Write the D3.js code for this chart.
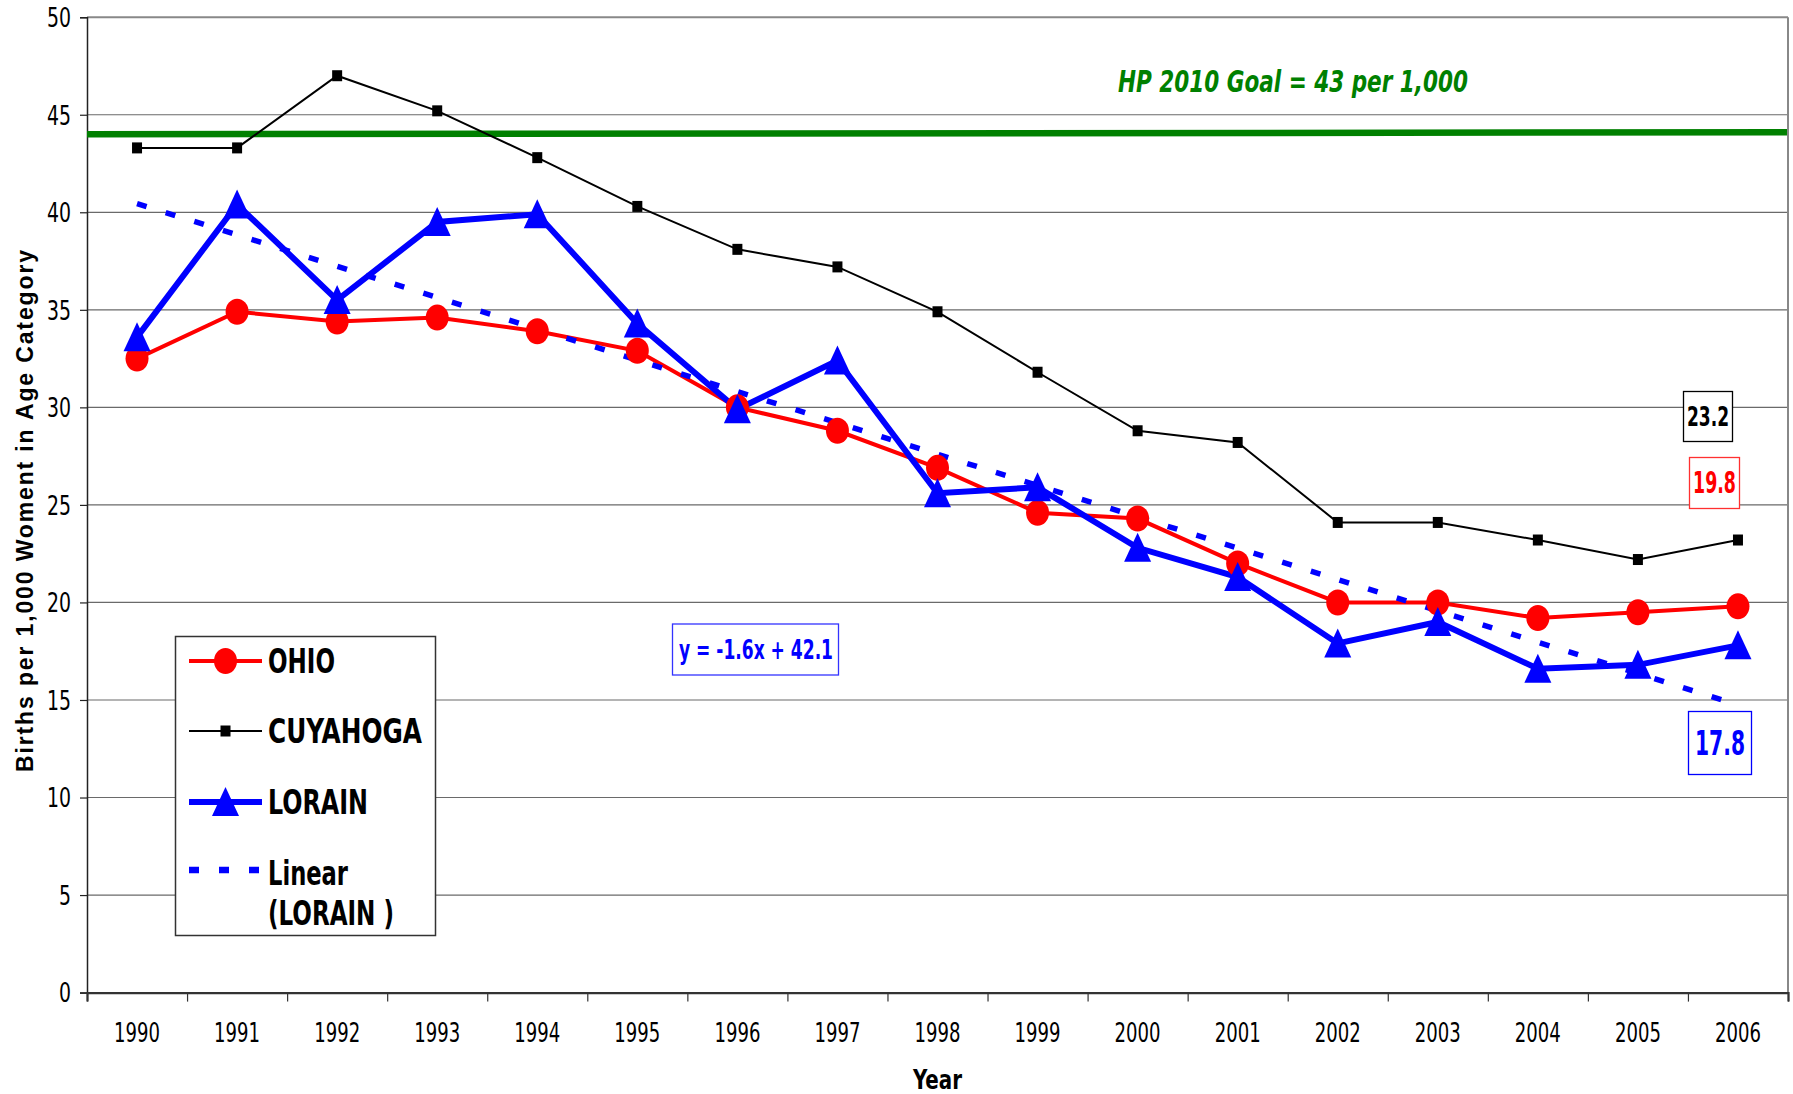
<!DOCTYPE html>
<html><head><meta charset="utf-8">
<script src="https://cdn.jsdelivr.net/npm/d3@7"></script>
<style>body{margin:0;background:#fff}</style>
</head><body>
<svg id="c" width="1793" height="1094"></svg>
<script>
const years = ["1990","1991","1992","1993","1994","1995","1996","1997","1998","1999","2000","2001","2002","2003","2004","2005","2006"];
const ohio = [32.5,34.9,34.4,34.6,33.9,32.9,30.0,28.8,26.9,24.6,24.3,22.0,20.0,20.0,19.2,19.5,19.8];
const cuyahoga = [43.3,43.3,47.0,45.2,42.8,40.3,38.1,37.2,34.9,31.8,28.8,28.2,24.1,24.1,23.2,22.2,23.2];
const lorain = [33.6,40.4,35.5,39.5,39.9,34.3,29.9,32.4,25.6,25.9,22.8,21.3,17.9,19.0,16.6,16.8,17.8];
const yTicks = [0,5,10,15,20,25,30,35,40,45,50];
const goalLine = [44.0,44.1];
const goalLabel = "HP 2010 Goal = 43 per 1,000";
const trendLabel = "y = -1.6x + 42.1";
const legendNames = ["OHIO","CUYAHOGA","LORAIN","Linear","(LORAIN )"];
const endLabels = ["23.2","19.8","17.8"];
const yTitle = "Births per 1,000 Woment in Age Category";
const xTitle = "Year";

const NARROW = "'Liberation Sans Narrow','Arial Narrow','DejaVu Sans Condensed',sans-serif";
const SANS = "'Liberation Sans',Arial,sans-serif";

const svg = d3.select("#c");
const L = 87, R = 1788, T = 17.2, B = 992.6;
const x = d3.scaleBand().domain(years).range([L, R]).paddingInner(0).paddingOuter(0);
const xc = d => x(d) + x.bandwidth()/2;
const y = d3.scaleLinear().domain([0,50]).range([B, T]);
const xEdge = d3.scaleLinear().domain([0, years.length]).range([L, R]);

// gridlines
svg.append("g").selectAll("line").data(yTicks.filter(v=>v>0)).join("line")
  .attr("x1", L).attr("x2", R).attr("y1", d=>y(d)).attr("y2", d=>y(d))
  .attr("stroke", d => d===50 ? "#888" : "#6a6a6a").attr("stroke-width", d => d===50 ? 2 : 1.2);
// right border
svg.append("line").attr("x1", R).attr("x2", R).attr("y1", T).attr("y2", B).attr("stroke","#888").attr("stroke-width",2);

// y axis
const yAx = svg.append("g").attr("transform", `translate(${L},0)`)
  .call(d3.axisLeft(y).tickValues(yTicks).tickSize(7).tickPadding(9));
yAx.select(".domain").attr("stroke","#222").attr("stroke-width",1.5);
yAx.selectAll(".tick line").attr("stroke","#222").attr("stroke-width",1.2);
yAx.selectAll("text").attr("font-family", NARROW).attr("font-size", 26).attr("fill","#000").attr("dy","0.36em")
  .attr("textLength", d => String(d).length*12).attr("lengthAdjust","spacingAndGlyphs");

// x axis ticks at band edges
const xAx1 = svg.append("g").attr("transform", `translate(0,${B})`)
  .call(d3.axisBottom(xEdge).tickValues(d3.range(years.length+1)).tickFormat("").tickSize(9));
xAx1.select(".domain").attr("stroke","#333").attr("stroke-width",2.2);
xAx1.selectAll(".tick line").attr("stroke","#333").attr("stroke-width",1.2);
const xAx2 = svg.append("g").attr("transform", `translate(0,${B})`)
  .call(d3.axisBottom(x).tickSize(0).tickPadding(31));
xAx2.select(".domain").remove();
xAx2.selectAll("text").attr("font-family", NARROW).attr("font-size", 26).attr("fill","#000")
  .attr("textLength", 46).attr("lengthAdjust","spacingAndGlyphs");

// axis titles
svg.append("text").attr("x", (L+R)/2).attr("y", 1089).attr("text-anchor","middle")
  .attr("font-family", NARROW).attr("font-weight","bold").attr("font-size", 27)
  .attr("textLength", 49).attr("lengthAdjust","spacingAndGlyphs").text(xTitle);
svg.append("text").attr("transform", "translate(33,511) rotate(-90)").attr("text-anchor","middle")
  .attr("font-family", SANS).attr("font-weight","bold").attr("font-size", 23)
  .attr("textLength", 522).attr("lengthAdjust","spacing").text(yTitle);

// goal line
svg.append("line").attr("x1", L).attr("x2", R-1).attr("y1", y(goalLine[0])).attr("y2", y(goalLine[1]))
  .attr("stroke","#008000").attr("stroke-width",6.5);
svg.append("text").attr("x", 1293).attr("y", 92).attr("text-anchor","middle")
  .attr("font-family", NARROW).attr("font-weight","bold").attr("font-style","italic").attr("font-size", 31)
  .attr("fill","#008000").attr("textLength", 350).attr("lengthAdjust","spacingAndGlyphs").text(goalLabel);

// lines
const line = d3.line().x((d,i)=>xc(years[i])).y(d=>y(d));
svg.append("path").datum(ohio).attr("d", line).attr("fill","none").attr("stroke","#ff0000").attr("stroke-width",4);
svg.append("path").datum(cuyahoga).attr("d", line).attr("fill","none").attr("stroke","#000").attr("stroke-width",2);
svg.append("path").datum(lorain).attr("d", line).attr("fill","none").attr("stroke","#0000ff").attr("stroke-width",6).attr("stroke-linejoin","miter");

// trend line (least squares on lorain, x = 1..n)
const n = lorain.length;
const xs = d3.range(1, n+1);
const mx = d3.mean(xs), my = d3.mean(lorain);
const slope = d3.sum(xs, (v,i)=>(v-mx)*(lorain[i]-my)) / d3.sum(xs, v=>(v-mx)*(v-mx));
const icpt = my - slope*mx;
const trend = xs.map(v => slope*v + icpt);
svg.append("path").datum([trend[0], trend[n-1]])
  .attr("d", d3.line().x((d,i)=> i===0 ? xc(years[0]) : xc(years[n-1])).y(d=>y(d)))
  .attr("fill","none").attr("stroke","#0000ff").attr("stroke-width",5.5).attr("stroke-dasharray","10,20");

// markers
const tri = "M0,-15L13.5,14L-13.5,14Z";
svg.append("g").selectAll("ellipse").data(ohio).join("ellipse")
  .attr("cx",(d,i)=>xc(years[i])).attr("cy",d=>y(d)).attr("rx",11.5).attr("ry",13).attr("fill","#ff0000");
svg.append("g").selectAll("rect").data(cuyahoga).join("rect")
  .attr("x",(d,i)=>xc(years[i])-5).attr("y",d=>y(d)-5.5).attr("width",10).attr("height",11).attr("fill","#000");
svg.append("g").selectAll("path").data(lorain).join("path")
  .attr("transform",(d,i)=>`translate(${xc(years[i])},${y(d)})`).attr("d", tri).attr("fill","#0000ff");

// equation box
svg.append("rect").attr("x",672.5).attr("y",624).attr("width",166).attr("height",51)
  .attr("fill","#fff").attr("stroke","#3333ff").attr("stroke-width",1.3);
svg.append("text").attr("x",756).attr("y",659).attr("text-anchor","middle")
  .attr("font-family", NARROW).attr("font-weight","bold").attr("font-size",26).attr("fill","#0000ff")
  .attr("textLength",154).attr("lengthAdjust","spacingAndGlyphs").text(trendLabel);

// end value labels
const endBoxes = [
  {t:endLabels[0], x:1683, y:391, w:49, h:50, c:"#000", bc:"#000", fs:27, tl:42, by:426},
  {t:endLabels[1], x:1689, y:457, w:50, h:51, c:"#ff0000", bc:"#ff3030", fs:31, tl:43, by:493},
  {t:endLabels[2], x:1688, y:711, w:63, h:63, c:"#0000ff", bc:"#0000ff", fs:34, tl:50, by:755}
];
const eb = svg.append("g").selectAll("g").data(endBoxes).join("g");
eb.append("rect").attr("x",d=>d.x+0.5).attr("y",d=>d.y+0.5).attr("width",d=>d.w).attr("height",d=>d.h)
  .attr("fill","#fff").attr("stroke",d=>d.bc).attr("stroke-width",1.3);
eb.append("text").attr("x",d=>d.x+d.w/2+0.5).attr("y",d=>d.by).attr("text-anchor","middle")
  .attr("font-family", NARROW).attr("font-weight","bold").attr("font-size",d=>d.fs).attr("fill",d=>d.c)
  .attr("textLength",d=>d.tl).attr("lengthAdjust","spacingAndGlyphs").text(d=>d.t);

// legend
const lg = svg.append("g");
lg.append("rect").attr("x",175.5).attr("y",636.5).attr("width",260).attr("height",299)
  .attr("fill","#fff").attr("stroke","#333").attr("stroke-width",1.5);
const lx1 = 189, lx2 = 262, lmx = 225.5, ltx = 268;
const rows = [661, 731, 802, 870];
const baselines = [673, 743, 814, 885, 925];
const widths = [67, 154, 100, 80, 126];
lg.append("line").attr("x1",lx1).attr("x2",lx2).attr("y1",rows[0]).attr("y2",rows[0]).attr("stroke","#ff0000").attr("stroke-width",4);
lg.append("ellipse").attr("cx",lmx).attr("cy",rows[0]).attr("rx",11.5).attr("ry",13).attr("fill","#ff0000");
lg.append("line").attr("x1",lx1).attr("x2",lx2).attr("y1",rows[1]).attr("y2",rows[1]).attr("stroke","#000").attr("stroke-width",2);
lg.append("rect").attr("x",lmx-5).attr("y",rows[1]-5.5).attr("width",10).attr("height",11).attr("fill","#000");
lg.append("line").attr("x1",lx1).attr("x2",lx2).attr("y1",rows[2]).attr("y2",rows[2]).attr("stroke","#0000ff").attr("stroke-width",6);
lg.append("path").attr("transform",`translate(${lmx},${rows[2]})`).attr("d",tri).attr("fill","#0000ff");
lg.append("line").attr("x1",lx1).attr("x2",lx2+6).attr("y1",rows[3]).attr("y2",rows[3]).attr("stroke","#0000ff").attr("stroke-width",6.5).attr("stroke-dasharray","10,20");
lg.selectAll("text.l").data(legendNames).join("text").attr("class","l")
  .attr("x", ltx).attr("y",(d,i)=>baselines[i])
  .attr("font-family", NARROW).attr("font-weight","bold").attr("font-size",33).attr("fill","#000")
  .attr("textLength",(d,i)=>widths[i]).attr("lengthAdjust","spacingAndGlyphs").text(d=>d);
</script>
</body></html>
